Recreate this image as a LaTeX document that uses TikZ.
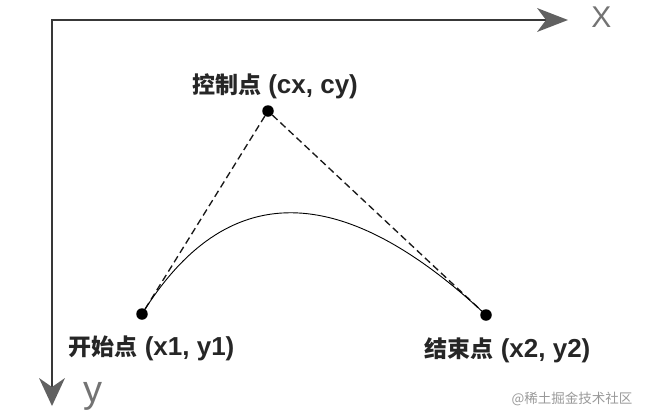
\documentclass[tikz,border=0pt]{standalone}
\usepackage{fontspec}
\setmainfont{Liberation Sans}
\newfontfamily\cjk{Noto Sans CJK SC}
\newfontfamily\latb{Liberation Sans}
\usetikzlibrary{calc}
\tikzset{
  axisline/.style={draw=black!78, line width=2.4pt},
  arrowfill/.style={fill=black!62},
  dotnode/.style={circle, fill=black, inner sep=0pt, minimum size=11.5pt},
  dashline/.style={draw=black!90, line width=1.35pt, dash pattern=on 7pt off 4pt},
  curveline/.style={draw=black, line width=0.9pt},
  lbl/.style={inner sep=0pt, anchor=base, text=black!85},
  axislbl/.style={inner sep=0pt, anchor=base, text=black!55},
  wm/.style={inner sep=0pt, anchor=base, text=black!40}
}
\newcommand{\ptlabel}[2]{{\cjk\bfseries\fontsize{23}{23}\selectfont #1}{\latb\bfseries\fontsize{26}{26}\selectfont\ #2}}
\begin{document}
\begin{tikzpicture}[x=1pt,y=-1pt]
\useasboundingbox (0,0) rectangle (646,416);
% axes
\coordinate (O) at (52,20);
\coordinate (xe) at (547,20);
\coordinate (ye) at (52,387);
\draw[axisline] (ye) -- (O) -- (xe);
\coordinate (xt) at (568,20);
\coordinate (yt) at (52,406);
\fill[arrowfill] (xt) -- ++(-31,-12) -- ++(9,12) -- ++(-9,12) -- cycle;
\fill[arrowfill] (yt) -- ++(-13,-28) -- ++(13,9) -- ++(13,-9) -- cycle;
\node[axislbl] (X) at (601.5,27) {\fontsize{30}{30}\selectfont X};
\node[axislbl] (Y) at (93,402) {\fontsize{38}{38}\selectfont y};
% points
\node[dotnode] (c) at (268,111) {};
\node[dotnode] (s) at (142,314) {};
\node[dotnode] (e) at (486,315) {};
\draw[dashline] (c) -- (s);
\draw[dashline] (c) -- (e);
\draw[curveline] (s.center) .. controls ($(s.center)!2/3!(c.center)$) and ($(e.center)!2/3!(c.center)$) .. (e.center);
% labels
\node[lbl] (lc) at (275,93) {\ptlabel{控制点}{(cx, cy)}};
\node[lbl] (ls) at (151.5,355) {\ptlabel{开始点}{(x1, y1)}};
\node[lbl] (le) at (507.5,357) {\ptlabel{结束点}{(x2, y2)}};
\node[wm] (w) at (572,403) {\cjk\fontsize{13.5}{13.5}\selectfont @稀土掘金技术社区};
\end{tikzpicture}
\end{document}
